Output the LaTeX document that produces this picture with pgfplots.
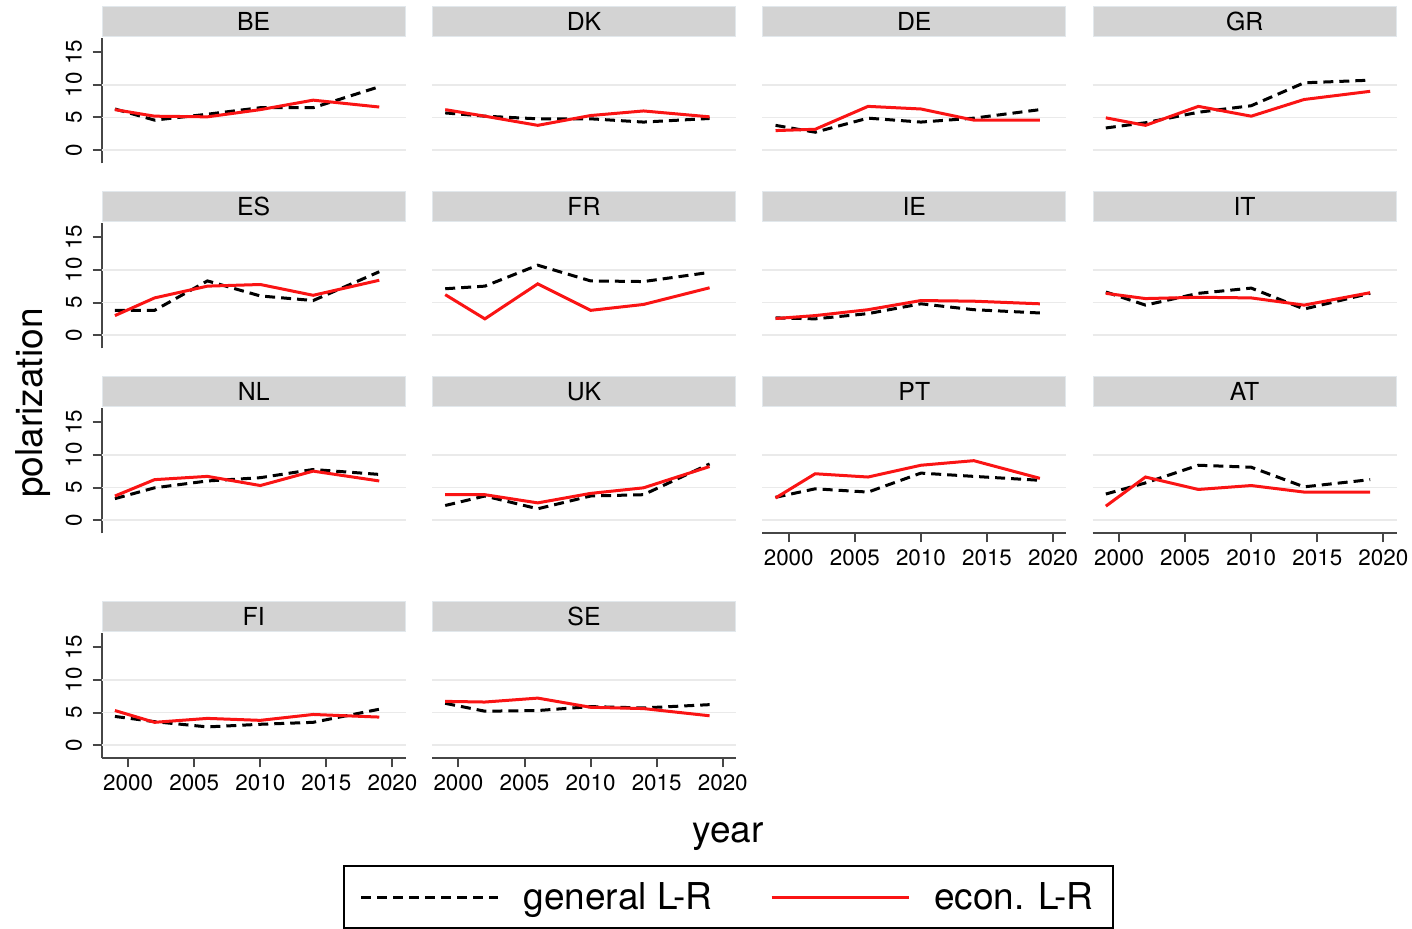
\documentclass[border=0pt]{standalone}
\usepackage{pgfplots}
\pgfplotsset{compat=1.18}
\usepackage{pgfplotstable}
\usepackage{fontspec}
\setmainfont{TeX Gyre Heros}

\definecolor{econred}{RGB}{250,20,20}
\definecolor{stripfill}{RGB}{211,211,211}
\definecolor{stripedge}{RGB}{226,232,236}
\definecolor{gridgray}{RGB}{234,234,234}
\definecolor{axisgray}{RGB}{70,70,70}

\newcommand{\ticksize}{\fontsize{11.2}{13}\selectfont}
\newcommand{\titlesize}{\fontsize{12.4}{14}\selectfont}
\newcommand{\bigsize}{\fontsize{18.5}{22}\selectfont}

% polarization by survey wave, general left-right dimension
\pgfplotstableread{
year BE   DK   DE   GR   ES  FR   IE   IT  NL   UK   PT  AT  FI  SE
1999 6.3  5.7  3.8  3.4  3.8 7.1  2.65 6.6 3.3  2.25 3.5 4.0 4.4 6.4
2002 4.6  5.2  2.75 4.2  3.8 7.5  2.5  4.6 4.95 3.7  4.8 5.7 3.6 5.2
2006 5.5  4.8  4.9  5.8  8.3 10.7 3.3  6.4 6.0  1.75 4.3 8.4 2.8 5.3
2010 6.5  4.8  4.3  6.8  6.0 8.3  4.8  7.2 6.5  3.7  7.2 8.1 3.2 5.9
2014 6.5  4.3  4.9  10.3 5.3 8.2  3.9  4.0 7.75 3.9  6.7 5.1 3.5 5.7
2019 9.7  4.85 6.2  10.7 9.7 9.6  3.4  6.4 7.0  8.6  6.1 6.2 5.5 6.2
}\generalLR

% polarization by survey wave, economic left-right dimension
\pgfplotstableread{
year BE   DK  DE  GR   ES   FR   IE   IT  NL  UK   PT  AT   FI  SE
1999 6.2  6.2 3.0 4.95 3.0  6.2  2.55 6.4 3.7 3.9  3.4 2.15 5.3 6.7
2002 5.2  5.2 3.2 3.8  5.7  2.5  3.0  5.6 6.2 3.9  7.1 6.6  3.5 6.6
2006 5.1  3.8 6.7 6.7  7.5  7.85 3.9  5.8 6.7 2.65 6.6 4.7  4.1 7.2
2010 6.2  5.3 6.3 5.2  7.75 3.8  5.3  5.7 5.3 4.1  8.4 5.3  3.8 5.8
2014 7.65 6.0 4.6 7.75 6.1  4.7  5.2  4.6 7.5 4.95 9.1 4.3  4.7 5.6
2019 6.6  5.1 4.6 9.0  8.4  7.25 4.8  6.5 6.0 8.2  6.4 4.3  4.3 4.5
}\econLR

\pgfplotsset{
  panel/.style={
    scale only axis, width=152pt, height=62.5pt,
    xmin=1998, xmax=2021, ymin=-2, ymax=17.1,
    axis x line*=bottom, axis y line*=left,
    axis line style={line width=1pt, draw=axisgray, -},
    every outer x axis line/.append style={-},
    every outer y axis line/.append style={-},
    xtick={2000,2005,...,2020}, ytick={0,5,10,15},
    tick align=outside, major tick length=4.5pt,
    tick style={line width=1pt, draw=axisgray},
    /pgf/number format/assume math mode=true,
    /pgf/number format/1000 sep={},
    xticklabel style={font=\ticksize, text=black},
    % rotated labels: the node's own y direction points to the left
    yticklabel style={font=\ticksize, text=black, rotate=90, anchor=base, yshift=5.5pt},
    extra y ticks={0,5,10},
    extra y tick style={grid=major, major tick length=0pt, yticklabel={}},
    major grid style={draw=gridgray, line width=0.8pt},
    every axis title/.style={at={(0.5,1)}, anchor=south, yshift=0.6pt,
      fill=stripfill, draw=stripedge, line width=0.5pt,
      minimum width=151.5pt, minimum height=15pt, inner sep=0pt,
      font=\titlesize},
  },
  nox/.style={x axis line style={draw=none}, xtick=\empty},
  noy/.style={y axis line style={draw=none}, ytick=\empty},
  genline/.style={black, line width=1.5pt, dash pattern=on 5pt off 3pt},
  econline/.style={econred, line width=1.5pt},
}

% one small multiple: left, top, country column, extra options
\newcommand{\panel}[4]{%
  \begin{axis}[panel, anchor=north west, at={(#1,#2)}, title={#3}, #4]
    \addplot[genline] table[x=year, y=#3] {\generalLR};
    \addplot[econline] table[x=year, y=#3] {\econLR};
  \end{axis}}

\begin{document}
\begin{tikzpicture}
\useasboundingbox (0,0) rectangle (706pt,-464pt);

% row 1
\panel{50.85pt}{-19.15pt}{BE}{nox}
\panel{216pt}{-19.15pt}{DK}{nox,noy}
\panel{381.15pt}{-19.15pt}{DE}{nox,noy}
\panel{546.3pt}{-19.15pt}{GR}{nox,noy}
% row 2
\panel{50.85pt}{-111.65pt}{ES}{nox}
\panel{216pt}{-111.65pt}{FR}{nox,noy}
\panel{381.15pt}{-111.65pt}{IE}{nox,noy}
\panel{546.3pt}{-111.65pt}{IT}{nox,noy}
% row 3
\panel{50.85pt}{-204.15pt}{NL}{nox}
\panel{216pt}{-204.15pt}{UK}{nox,noy}
\panel{381.15pt}{-204.15pt}{PT}{noy}
\panel{546.3pt}{-204.15pt}{AT}{noy}
% row 4
\panel{50.85pt}{-316.65pt}{FI}{}
\panel{216pt}{-316.65pt}{SE}{noy,
  legend entries={general L-R,econ. L-R},
  legend columns=2,
  legend image code/.code={\draw[#1] (0pt,0pt) -- (68.5pt,0pt);},
  legend style={at={(0.975,-0.854)}, anchor=north, draw=black, line width=1pt,
    font=\bigsize, inner xsep=8pt, inner ysep=6pt,
    /tikz/every odd column/.append style={column sep=10pt},
    /tikz/every even column/.append style={column sep=27pt}}}

\node[font=\bigsize, rotate=90, anchor=base] at (21pt,-201.5pt) {polarization};
\node[font=\bigsize, anchor=base] at (364pt,-421pt) {year};
\end{tikzpicture}
\end{document}
